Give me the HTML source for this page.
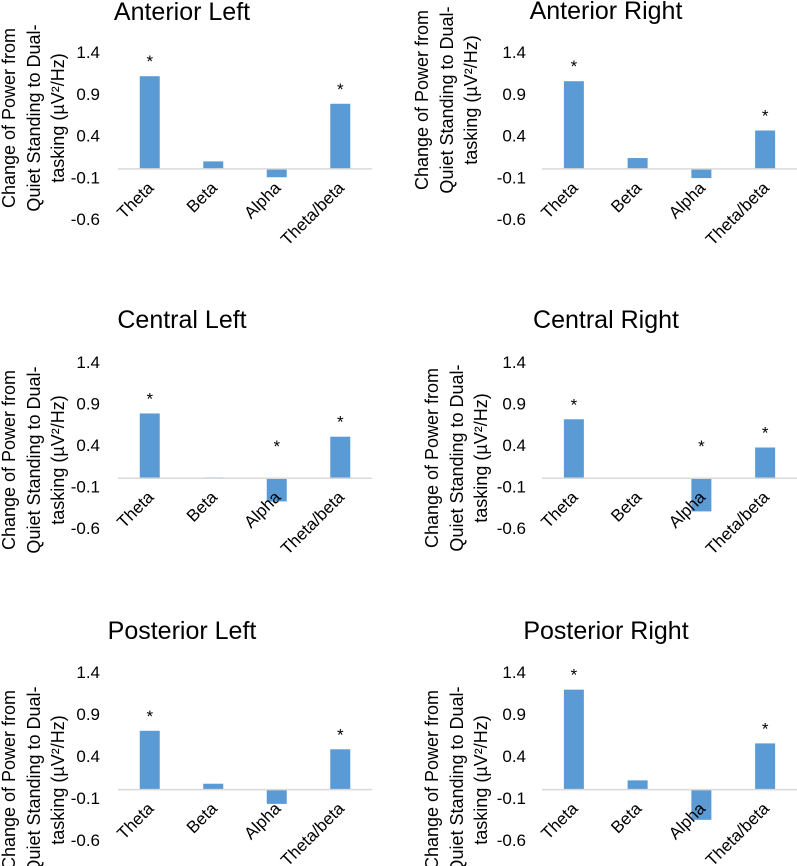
<!DOCTYPE html>
<html><head><meta charset="utf-8">
<style>
html,body{margin:0;padding:0;background:#fff;}
svg{display:block;font-family:"Liberation Sans",sans-serif;}
</style></head>
<body>
<svg id="chart" width="797" height="866" viewBox="0 0 797 866" xmlns="http://www.w3.org/2000/svg"></svg>
<script>
const categories = ["Theta", "Beta", "Alpha", "Theta/beta"];
const panelTitles = ["Anterior Left", "Anterior Right", "Central Left", "Central Right", "Posterior Left", "Posterior Right"];
const valuesAnteriorLeft = [1.11, 0.09, -0.10, 0.78];
const valuesAnteriorRight = [1.05, 0.13, -0.11, 0.46];
const valuesCentralLeft = [0.78, 0.01, -0.28, 0.50];
const valuesCentralRight = [0.71, 0.00, -0.40, 0.37];
const valuesPosteriorLeft = [0.70, 0.07, -0.17, 0.48];
const valuesPosteriorRight = [1.19, 0.11, -0.36, 0.55];
const starsAnteriorLeft = [1, 0, 0, 1];
const starsAnteriorRight = [1, 0, 0, 1];
const starsCentralLeft = [1, 0, 1, 1];
const starsCentralRight = [1, 0, 1, 1];
const starsPosteriorLeft = [1, 0, 0, 1];
const starsPosteriorRight = [1, 0, 0, 1];
const yTicks = [1.4, 0.9, 0.4, -0.1, -0.6];
const yTickLabels = ["1.4", "0.9", "0.4", "-0.1", "-0.6"];

const allValues = [valuesAnteriorLeft, valuesAnteriorRight, valuesCentralLeft, valuesCentralRight, valuesPosteriorLeft, valuesPosteriorRight];
const allStars = [starsAnteriorLeft, starsAnteriorRight, starsCentralLeft, starsCentralRight, starsPosteriorLeft, starsPosteriorRight];

const layouts = [
  {ox:0,   top:52,  bot:219, axL:118, axR:372, tickR:100, titleX:182, titleY:20,  ytX:[8,33,57],    ytY:118},
  {ox:398, top:52,  bot:219, axL:144, axR:399, tickR:128, titleX:208, titleY:19,  ytX:[23,48,72],   ytY:100},
  {ox:0,   top:362, bot:528, axL:118, axR:372, tickR:100, titleX:182, titleY:328, ytX:[8,33,57],    ytY:460},
  {ox:398, top:362, bot:528, axL:144, axR:399, tickR:128, titleX:208, titleY:328, ytX:[33,58,82],   ytY:458},
  {ox:0,   top:672, bot:840, axL:118, axR:372, tickR:100, titleX:182, titleY:639, ytX:[8,33,57],    ytY:780},
  {ox:398, top:672, bot:840, axL:144, axR:399, tickR:128, titleX:208, titleY:639, ytX:[33,58,82],   ytY:780}
];
const NS = "http://www.w3.org/2000/svg";
const svg = document.getElementById("chart");
function mk(tag, attrs, parent){
  const e = document.createElementNS(NS, tag);
  for (const k in attrs) e.setAttribute(k, attrs[k]);
  (parent||svg).appendChild(e);
  return e;
}
const ytLines = ["Change of Power from", "Quiet Standing to Dual-", "tasking (\u00B5V\u00B2/Hz)"];

layouts.forEach((L, p) => {
  const g = mk("g", {});
  
  
  const vMax = yTicks[0], vMin = yTicks[yTicks.length-1];
  const y = v => L.top + (vMax - v) / (vMax - vMin) * (L.bot - L.top);
  const band = (L.axR - L.axL) / categories.length;
  const x = i => L.ox + L.axL + band * (i + 0.5);

  const t = mk("text", {x: L.ox + L.titleX, y: L.titleY, "text-anchor":"middle", "font-size":25, fill:"#000"}, g);
  t.textContent = panelTitles[p];
  
  

  ytLines.forEach((line, li) => {
    const tx = L.ox + L.ytX[li] + 7;
    const yt = mk("text", {x: tx, y: L.ytY, "text-anchor":"middle", "font-size":18, fill:"#000", transform:`rotate(-90 ${tx} ${L.ytY})`}, g);
    yt.textContent = line;
    
    
  });

  yTicks.forEach((v, i) => {
    const tl = mk("text", {x: L.ox + L.tickR, y: y(v) + 6, "text-anchor":"end", "font-size":17, fill:"#000"}, g);
    tl.textContent = yTickLabels[i];
    
    
  });

  const vals = allValues[p], stars = allStars[p];
  vals.forEach((v, i) => {
    const y0 = y(0), yv = y(v);
    const b = mk("rect", {x: x(i) - 10, y: Math.min(y0, yv), width: 20, height: Math.max(0.8, Math.abs(yv - y0)), fill:"#5b9bd5"}, g);
    
    
    if (stars[i]) {
      const sy = v > 0 ? yv - 18 : y(0.4) - 2;
      const s = mk("text", {x: x(i), y: sy + 9, "text-anchor":"middle", "font-size":17, fill:"#000"}, g);
      s.textContent = "*";
      
      
    }
  });

  const ax = mk("line", {x1: L.ox + L.axL, x2: L.ox + L.axR, y1: y(0), y2: y(0), stroke:"#d9d9d9", "stroke-width":1.5}, g);
  
  

  categories.forEach((c, i) => {
    const lx = x(i) + 5, ly = y(0) + 20;
    const xl = mk("text", {x: lx, y: ly, "text-anchor":"end", "font-size":17, fill:"#000", transform:`rotate(-45 ${lx} ${ly})`}, g);
    xl.textContent = c;
    
    
  });
});
</script>
</body></html>
